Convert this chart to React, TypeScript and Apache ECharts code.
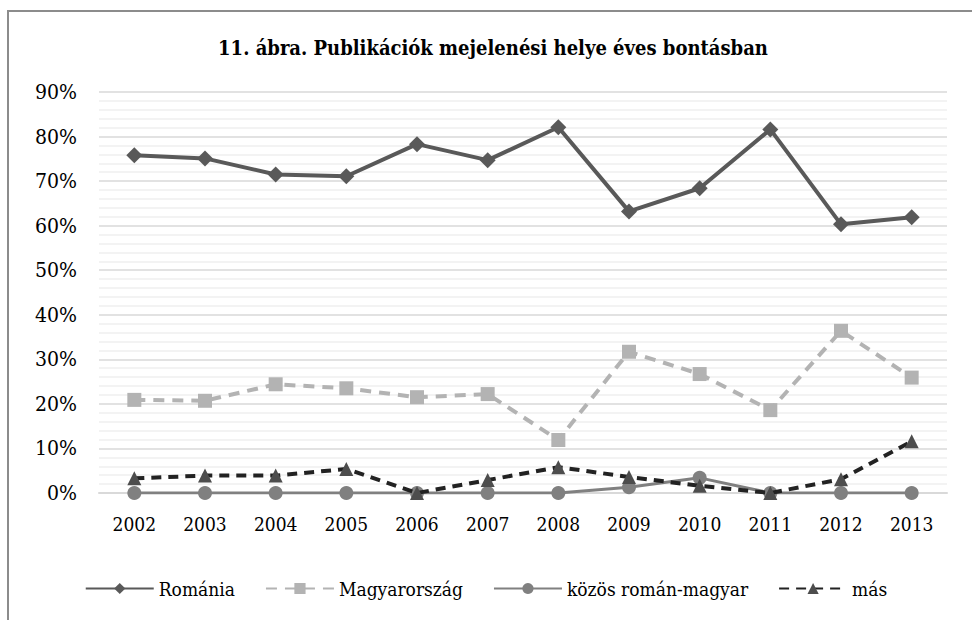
import React, { useEffect, useRef } from "react";
import * as echarts from "echarts";

const years = ["2002", "2003", "2004", "2005", "2006", "2007", "2008", "2009", "2010", "2011", "2012", "2013"];
const romania = [75.8, 75.1, 71.5, 71.1, 78.3, 74.7, 82.1, 63.2, 68.4, 81.6, 60.3, 61.9];
const magyarorszag = [20.9, 20.7, 24.4, 23.5, 21.5, 22.2, 11.9, 31.7, 26.7, 18.6, 36.4, 25.9];
const kozos = [0, 0, 0, 0, 0, 0, 0, 1.3, 3.4, 0, 0, 0];
const mas = [3.3, 3.9, 3.9, 5.4, 0, 2.9, 5.8, 3.6, 1.6, 0, 3.1, 11.6];

const SERIF = "DejaVu Serif Condensed, DejaVu Serif, serif";

export default function App() {
  const ref = useRef<HTMLDivElement>(null);
  useEffect(() => {
    if (!ref.current) return;
    const chart = echarts.init(ref.current, undefined, { renderer: "svg" });
    chart.setOption({
      animation: false,
      backgroundColor: "#ffffff",
      graphic: [
        {
          type: "rect",
          shape: { x: 8, y: 11, width: 1100, height: 800 },
          style: { fill: "none", stroke: "#8c8c8c", lineWidth: 2 },
          silent: true,
        },
      ],
      title: {
        text: "11. ábra. Publikációk mejelenési helye éves bontásban",
        left: 488,
        textAlign: "center",
        top: 33,
        textStyle: { fontFamily: SERIF, fontSize: 20, fontWeight: "bold", color: "#000" },
      },
      grid: { left: 99, right: 25, top: 92, bottom: 127 },
      legend: {
        top: 574,
        left: "center",
        itemWidth: 68,
        itemHeight: 14,
        itemGap: 30,
        textStyle: { fontFamily: SERIF, fontSize: 19, color: "#000" },
        data: ["Románia", "Magyarország", "közös román-magyar", "más"],
      },
      xAxis: {
        type: "category",
        data: years,
        boundaryGap: true,
        axisLine: { show: true, lineStyle: { color: "#d9d9d9", width: 2 } },
        axisTick: { show: false },
        axisLabel: { color: "#000", fontSize: 19, fontFamily: SERIF, margin: 21 },
      },
      yAxis: {
        type: "value",
        min: 0,
        max: 90,
        interval: 10,
        axisLine: { show: false },
        axisTick: { show: false },
        axisLabel: { color: "#000", fontSize: 21, fontFamily: SERIF, margin: 22, formatter: "{value}%" },
        splitLine: { show: true, lineStyle: { color: "#d9d9d9", width: 1.5 } },
        minorTick: { show: false, splitNumber: 5 },
        minorSplitLine: { show: true, lineStyle: { color: "#efefef", width: 1.5 } },
      },
      series: [
        {
          name: "Románia",
          type: "line",
          data: romania,
          symbol: "diamond",
          symbolSize: 16,
          lineStyle: { color: "#595959", width: 4 },
          itemStyle: { color: "#595959" },
          z: 5,
        },
        {
          name: "Magyarország",
          type: "line",
          data: magyarorszag,
          symbol: "rect",
          symbolSize: 14,
          lineStyle: { color: "#b3b3b3", width: 4, type: [11, 8] },
          itemStyle: { color: "#b3b3b3" },
          z: 4,
        },
        {
          name: "közös román-magyar",
          type: "line",
          data: kozos,
          symbol: "circle",
          symbolSize: 14,
          lineStyle: { color: "#808080", width: 3 },
          itemStyle: { color: "#808080" },
          z: 3,
        },
        {
          name: "más",
          type: "line",
          data: mas,
          symbol: "triangle",
          symbolSize: 14,
          lineStyle: { color: "#222222", width: 4, type: [10, 7] },
          itemStyle: { color: "#4d4d4d" },
          z: 6,
        },
      ],
    });
    return () => chart.dispose();
  }, []);
  return <div ref={ref} style={{ width: 972, height: 620, position: "absolute", left: 0, top: 0 }} />;
}
